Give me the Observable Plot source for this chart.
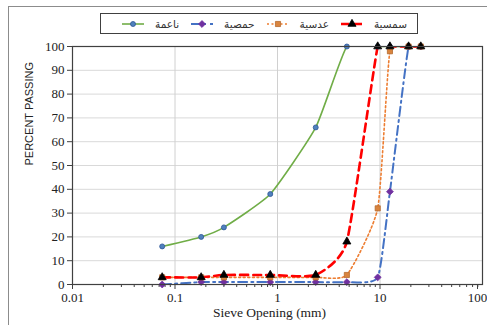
<!DOCTYPE html>
<html><head><meta charset="utf-8">
<script src="https://cdn.jsdelivr.net/npm/d3@7"></script>
<script src="https://cdn.jsdelivr.net/npm/@observablehq/plot@0.6"></script>
<style>
body{margin:0;background:#fff;}
#wrap{position:relative;width:487px;height:325px;overflow:hidden;}
#frameL{position:absolute;left:8px;top:6px;width:1px;height:330px;background:#8c8c8c;}
#frameT{position:absolute;left:8px;top:6px;width:490px;height:1px;background:#8c8c8c;}
#legend{position:absolute;left:100px;top:13px;width:306px;height:19px;border:1.3px solid #404040;background:#fff;
 display:flex;flex-direction:row-reverse;align-items:center;justify-content:flex-start;padding-right:10px;box-sizing:content-box;
 font-family:"DejaVu Sans";font-size:10.5px;color:#333;}
.item{display:flex;flex-direction:row-reverse;align-items:center;margin-left:12px;}
.item span{margin-left:11px;}
</style></head>
<body><div id="wrap"><div id="frameL"></div><div id="frameT"></div></div>
<script>
const sieve = [0.075, 0.18, 0.3, 0.85, 2.36, 4.75, 9.5, 12.5, 19, 25];
const names = ["ناعمة", "حمصية", "عدسية", "سمسية"];
const fine = [16, 20, 24, 38, 66, 100, 100, 100, 100, 100];
const chickpea = [0, 1, 1, 1, 1, 1, 3, 39, 100, 100];
const lentil = [3, 3, 3, 3, 3, 4, 32, 98, 100, 100];
const sesame = [3, 3, 4, 4, 4, 18, 100, 100, 100, 100];
const xTicks = [0.01, 0.1, 1, 10];
const xLastTick = [100];
const yTicks = [0, 10, 20, 30, 40, 50, 60, 70, 80, 90, 100];
const minorTicks = [0.01, 0.1, 1, 10].flatMap(d => [2,3,4,5,6,7,8,9].map(k => k * d));

const styles = [
  {stroke:"#70ad47", dash:null, width:1.6, symbol:"circle", fill:"#4f81bd", mstroke:"#2f5597", r:2.5},
  {stroke:"#4472c4", dash:"9,4,2,4", width:2, symbol:"diamond2", fill:"#7030a0", mstroke:"#7030a0", r:3.1},
  {stroke:"#ed7d31", dash:"2,2.5", width:1.6, symbol:"square", fill:"#d9843e", mstroke:"#b46a2e", r:2.9},
  {stroke:"#ff0000", dash:"8,5", width:2.6, symbol:"triangle", fill:"#000", mstroke:"#000", r:3.0}
];
const series = [fine, chickpea, lentil, sesame];
const data = series.map((vals, i) => sieve.map((s, j) => ({size: s, pass: vals[j], name: names[i]})));
const smooth = d3.curveCardinal.tension(0.5);

const marks = [
  Plot.gridY(yTicks.slice(1, -1), {stroke:"#d9d9d9", strokeOpacity:1}),
  Plot.gridX([0.1, 1, 10], {stroke:"#d0d0d0", strokeOpacity:1}),
  Plot.axisY(yTicks, {tickSize:5, tickPadding:3, fontFamily:"Liberation Serif", fontSize:13, label:null, stroke:"#404040"}),
  Plot.axisX(xTicks, {tickSize:5, tickPadding:3, fontFamily:"Liberation Serif", fontSize:13, label:null, tickFormat:d => String(d), stroke:"#404040"}),
  Plot.axisX(xLastTick, {tickSize:5, tickPadding:3, fontFamily:"Liberation Serif", fontSize:13, label:null, tickFormat:d => String(d), stroke:"#404040", dx:-5}),
  Plot.axisX(minorTicks, {tickSize:3, text:null, label:null, stroke:"#404040"}),
  Plot.text(["PERCENT PASSING"], {frameAnchor:"left", rotate:-90, dx:-43, fontFamily:"Liberation Sans", fontSize:11, fill:"#222"}),
  Plot.text(["Sieve Opening (mm)"], {frameAnchor:"bottom", dy:32, dx:-8, fontFamily:"Liberation Serif", fontSize:13.5, fill:"#222"})
];
data.forEach((d, i) => {
  const s = styles[i];
  marks.push(Plot.line(d, {x:"size", y:"pass", stroke:s.stroke, strokeWidth:s.width, strokeDasharray:s.dash, curve:smooth, clip:true}));
});
data.forEach((d, i) => {
  const s = styles[i];
  marks.push(Plot.dot(d, {x:"size", y:"pass", symbol:()=>s.symbol, fill:s.fill, stroke:s.mstroke, strokeWidth:0.8, r:s.r}));
});
marks.push(Plot.frame({stroke:"#404040", strokeWidth:1.2}));

const chart = Plot.plot({
  width:487, height:325,
  marginLeft:72, marginRight:5, marginTop:46, marginBottom:41,
  x:{type:"log", domain:[0.01, 100]},
  y:{domain:[0, 100]},
  symbol:{type:"identity"},
  style:{background:"transparent", fontFamily:"Liberation Serif", fontSize:"13px", color:"#222"},
  marks
});
chart.style.position = "absolute";
chart.style.left = "0px";
chart.style.top = "0px";
const wrap = document.getElementById("wrap");
wrap.appendChild(chart);

// legend
const legend = document.createElement("div");
legend.id = "legend";
const order = [3, 2, 1, 0];
order.forEach(i => {
  const s = styles[i];
  const item = document.createElement("div");
  item.className = "item";
  const span = document.createElement("span");
  span.textContent = names[i];
  item.appendChild(span);
  const svg = d3.create("svg").attr("width", 22).attr("height", 10);
  svg.append("line").attr("x1", 0).attr("x2", 22).attr("y1", 5).attr("y2", 5)
    .attr("stroke", s.stroke).attr("stroke-width", s.width).attr("stroke-dasharray", s.dash);
  const sym = {circle:d3.symbolCircle, diamond2:d3.symbolDiamond2, square:d3.symbolSquare, triangle:d3.symbolTriangle}[s.symbol];
  svg.append("path").attr("transform", "translate(11,5)")
    .attr("d", d3.symbol(sym, Math.PI * s.r * s.r)())
    .attr("fill", s.fill).attr("stroke", s.mstroke).attr("stroke-width", 0.8);
  item.appendChild(svg.node());
  legend.appendChild(item);
});
wrap.appendChild(legend);
</script></body></html>
